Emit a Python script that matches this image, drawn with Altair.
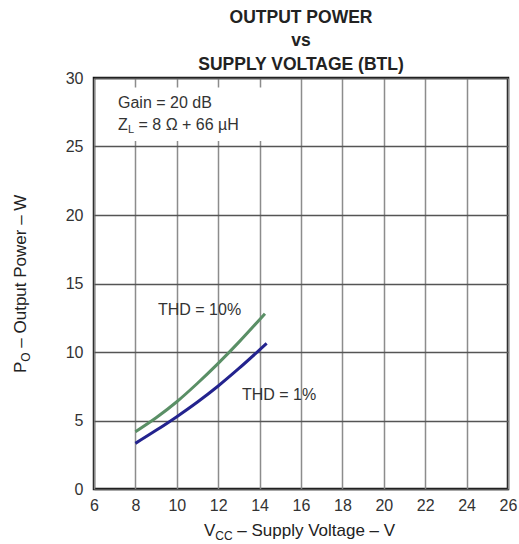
import altair as alt
import pandas as pd

# ---- data ----
vcc_10 = [8, 9, 10, 11, 12, 13, 14.26]
po_10 = [4.18, 5.2, 6.37, 7.72, 9.17, 10.72, 12.8]
vcc_1 = [8, 9, 10, 11, 12, 13, 14.34]
po_1 = [3.33, 4.28, 5.28, 6.35, 7.52, 8.8, 10.63]
series_names = ["THD = 10%", "THD = 1%"]
series_colors = ["#5a8f66", "#23238e"]

x_ticks = [6, 8, 10, 12, 14, 16, 18, 20, 22, 24, 26]
y_ticks = [0, 5, 10, 15, 20, 25, 30]

title_lines = ["OUTPUT POWER", "vs", "SUPPLY VOLTAGE (BTL)"]
label_10 = {"text": "THD = 10%", "x": 9.09, "y": 13.07}
label_1 = {"text": "THD = 1%", "x": 13.15, "y": 6.86}
gain_text = "Gain = 20 dB"
zl_main, zl_sub, zl_rest = "Z", "L", "= 8 Ω + 66 µH"
note_x, gain_y, zl_y = 7.16, 28.17, 26.57
box = {"x": 6.3, "x2": 14.5, "y": 25.4, "y2": 29.3}

FONT = "Liberation Sans"

rows = []
for v, p in zip(vcc_10, po_10):
    rows.append({"vcc": v, "po": p, "series": series_names[0]})
for v, p in zip(vcc_1, po_1):
    rows.append({"vcc": v, "po": p, "series": series_names[1]})
df = pd.DataFrame(rows)

xscale = alt.Scale(domain=[6, 26], nice=False, zero=False)
yscale = alt.Scale(domain=[0, 30], nice=False)

xaxis = alt.Axis(values=x_ticks, title=None, grid=True, gridColor="#8c8c8c",
                 gridWidth=1.5, ticks=False, domain=False, labelFont=FONT,
                 labelFontSize=16, labelColor="#333333", labelPadding=8,
                 labelFlush=False)
yaxis = alt.Axis(values=y_ticks, title=None, grid=True, gridColor="#555555",
                 gridWidth=1.5, ticks=False, domain=False, labelFont=FONT,
                 labelFontSize=16, labelColor="#333333", labelPadding=11,
                 labelFlush=False)

base = alt.Chart(df)

boxdf = pd.DataFrame([box])
whitebox = alt.Chart(boxdf).mark_rect(color="white").encode(
    x=alt.X("x:Q", scale=xscale, axis=xaxis),
    x2="x2:Q",
    y=alt.Y("y:Q", scale=yscale, axis=yaxis),
    y2="y2:Q",
)

lines = base.mark_line(strokeWidth=3, interpolate="monotone").encode(
    x=alt.X("vcc:Q", scale=xscale, axis=xaxis),
    y=alt.Y("po:Q", scale=yscale, axis=yaxis),
    color=alt.Color("series:N", scale=alt.Scale(domain=series_names, range=series_colors), legend=None),
)

lab_df = pd.DataFrame([label_10, label_1])
labels = alt.Chart(lab_df).mark_text(font=FONT, fontSize=16, align="left",
                                     baseline="middle", color="#333333").encode(
    x=alt.X("x:Q", scale=xscale), y=alt.Y("y:Q", scale=yscale), text="text:N")

gain = alt.Chart(pd.DataFrame([{"x": note_x, "y": gain_y, "t": gain_text}])).mark_text(
    font=FONT, fontSize=16, align="left", baseline="middle", color="#333333").encode(
    x=alt.X("x:Q", scale=xscale), y=alt.Y("y:Q", scale=yscale), text="t:N")

zl_df = pd.DataFrame([{"x": note_x, "y": zl_y, "a": zl_main, "b": zl_sub, "c": zl_rest}])
zl1 = alt.Chart(zl_df).mark_text(font=FONT, fontSize=16, align="left", baseline="middle",
                                 color="#333333").encode(
    x=alt.X("x:Q", scale=xscale), y=alt.Y("y:Q", scale=yscale), text="a:N")
zl2 = alt.Chart(zl_df).mark_text(font=FONT, fontSize=11, align="left", baseline="middle",
                                 color="#333333", dx=10, dy=5).encode(
    x=alt.X("x:Q", scale=xscale), y=alt.Y("y:Q", scale=yscale), text="b:N")
zl3 = alt.Chart(zl_df).mark_text(font=FONT, fontSize=16, align="left", baseline="middle",
                                 color="#333333", dx=20.5).encode(
    x=alt.X("x:Q", scale=xscale), y=alt.Y("y:Q", scale=yscale), text="c:N")

# axis titles with subscripts (pixel positions relative to plot area)
one = pd.DataFrame([{"k": 0}])
def txt(t, x, y, size, angle=0):
    return alt.Chart(one).mark_text(text=t, font=FONT, fontSize=size, align="left",
                                    baseline="alphabetic", color="#222222", angle=angle).encode(
        x=alt.value(x), y=alt.value(y))

ytitle = [txt("P", -68, 295, 17, 270), txt("O", -64, 283.7, 12, 270),
          txt("– Output Power – W", -68, 269.7, 17, 270)]
xtitle = [txt("V", 110, 458, 17), txt("CC", 121.3, 462, 12),
          txt("– Supply Voltage – V", 143.3, 458, 17)]

chart = alt.layer(whitebox, lines, labels, gain, zl1, zl2, zl3, *ytitle, *xtitle).properties(
    width=414, height=411,
    title=alt.TitleParams(text=title_lines, font=FONT, fontSize=17.5, fontWeight="bold",
                          color="#222222", lineHeight=23.5, anchor="middle", frame="group",
                          baseline="alphabetic", offset=8, dy=25),
    autosize=alt.AutoSizeParams(type="none"),
    padding={"left": 94, "top": 78, "right": 11, "bottom": 55},
    background="white",
).configure_view(stroke="#111111", strokeWidth=2.5)

chart.save("out.html", embed_options={"renderer": "svg", "actions": False})
